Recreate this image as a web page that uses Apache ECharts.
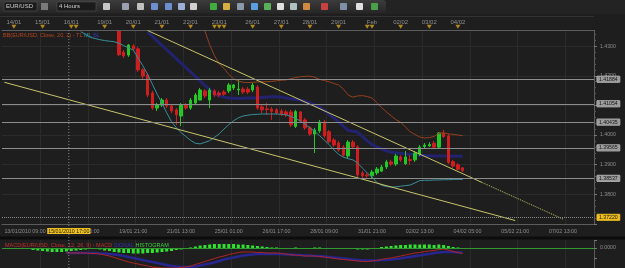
<!DOCTYPE html>
<html>
<head>
<meta charset="utf-8">
<title>EUR/USD 4 Hours</title>
<script src="https://cdn.jsdelivr.net/npm/echarts@6/dist/echarts.min.js"></script>
<style>
html, body { margin: 0; padding: 0; background: #1e1e1e; }
#chart { width: 625px; height: 268px; }
</style>
</head>
<body>
<div id="chart"></div>
<script>
// slots on the time axis (4 hour bars), candles start at slot 24
var slotCount = 124;
var candleStart = 24;

var opens = [1.4351,1.4280,1.4270,1.4301,1.4291,1.4220,1.4203,1.4142,1.4091,1.4101,
  1.4118,1.4098,1.4085,1.4064,1.4101,1.4091,1.4108,1.4118,1.4149,1.4118,
  1.4149,1.4142,1.4145,1.4149,1.4159,1.4152,1.4155,1.4155,1.4152,1.4162,
  1.4095,1.4088,1.4088,1.4085,1.4081,1.4078,1.4078,1.4029,1.4078,1.4051,
  1.4024,1.4003,1.4014,1.4044,1.4011,1.3983,1.3973,1.3959,1.3929,1.3976,
  1.3960,1.3872,1.3865,1.3862,1.3872,1.3878,1.3892,1.3909,1.3902,1.3926,
  1.3903,1.3917,1.3916,1.3936,1.3961,1.3963,1.3972,1.3959,1.4007,1.3997,
  1.3910,1.3899,1.3889];
var closes = [1.4271,1.4267,1.4304,1.4291,1.4220,1.4199,1.4135,1.4091,1.4101,1.4118,
  1.4098,1.4081,1.4068,1.4101,1.4091,1.4118,1.4135,1.4152,1.4132,1.4152,
  1.4135,1.4135,1.4138,1.4169,1.4169,1.4155,1.4145,1.4145,1.4169,1.4091,
  1.4085,1.4086,1.4080,1.4074,1.4071,1.4068,1.4034,1.4079,1.4047,1.4024,
  1.4003,1.4017,1.4044,1.3997,1.3977,1.3966,1.3949,1.3932,1.3976,1.3960,
  1.3865,1.3862,1.3862,1.3875,1.3885,1.3892,1.3909,1.3902,1.3929,1.3916,
  1.3926,1.3914,1.3939,1.3959,1.3966,1.3968,1.3959,1.4007,1.3995,1.3907,
  1.3895,1.3884,1.3879];
var lows = [1.4267,1.4260,1.4264,1.4284,1.4213,1.4186,1.4128,1.4085,1.4081,1.4095,
  1.4091,1.4074,1.4034,1.4030,1.4085,1.4085,1.4101,1.4118,1.4125,1.4091,
  1.4128,1.4128,1.4132,1.4142,1.4152,1.4135,1.4138,1.4138,1.4145,1.4085,
  1.4074,1.4068,1.4051,1.4068,1.4064,1.4061,1.4027,1.4024,1.4041,1.4017,
  1.3997,1.3939,1.4007,1.3990,1.3973,1.3960,1.3943,1.3926,1.3922,1.3953,
  1.3858,1.3851,1.3855,1.3855,1.3865,1.3875,1.3885,1.3895,1.3895,1.3909,
  1.3899,1.3899,1.3909,1.3929,1.3956,1.3960,1.3953,1.3956,1.3990,1.3902,
  1.3889,1.3882,1.3875];
var highs = [1.4355,1.4287,1.4307,1.4307,1.4297,1.4226,1.4209,1.4149,1.4108,1.4125,
  1.4125,1.4105,1.4091,1.4108,1.4108,1.4125,1.4142,1.4159,1.4155,1.4159,
  1.4155,1.4149,1.4152,1.4176,1.4172,1.4186,1.4162,1.4162,1.4176,1.4169,
  1.4101,1.4108,1.4095,1.4091,1.4088,1.4085,1.4085,1.4085,1.4081,1.4058,
  1.4030,1.4024,1.4051,1.4051,1.4017,1.3990,1.3980,1.3966,1.3983,1.3983,
  1.3966,1.3879,1.3872,1.3882,1.3892,1.3899,1.3916,1.3916,1.3936,1.3932,
  1.3946,1.3932,1.3946,1.3966,1.3973,1.3976,1.3980,1.4010,1.4017,1.4003,
  1.3916,1.3905,1.3892];

// bollinger bands (20, 2)
var bbUpperStart = 42;
var bbUpper = [1.4352,1.4305,1.4268,1.4240,1.4225,1.4205,1.4190,1.4182,1.4178,1.4177,
  1.4178,1.4179,1.4180,1.4180,1.4181,1.4183,1.4185,1.4186,1.4190,1.4194,
  1.4197,1.4198,1.4199,1.4195,1.4188,1.4184,1.4180,1.4174,1.4169,1.4155,
  1.4135,1.4128,1.4132,1.4133,1.4130,1.4125,1.4110,1.4093,1.4078,1.4065,
  1.4052,1.4043,1.4027,1.4011,1.4002,1.3993,1.3990,1.3991,1.3995,1.4006,
  1.4007,1.4004,1.4002,1.4000,1.3998];
var bbMiddleStart = 30;
var bbMiddle = [1.4348,1.4333,1.4318,1.4303,1.4288,1.4273,1.4258,1.4243,1.4228,1.4213,
  1.4198,1.4183,1.4168,1.4153,1.4140,1.4132,1.4128,1.4125,1.4124,1.4123,
  1.4124,1.4125,1.4125,1.4126,1.4127,1.4128,1.4129,1.4129,1.4128,1.4125,
  1.4122,1.4120,1.4118,1.4113,1.4108,1.4102,1.4095,1.4083,1.4070,1.4057,
  1.4045,1.4030,1.4016,1.4013,1.4010,1.3995,1.3980,1.3968,1.3960,1.3953,
  1.3946,1.3942,1.3940,1.3938,1.3936,1.3935,1.3933,1.3932,1.3931,1.3930,
  1.3929,1.3929,1.3929,1.3928,1.3928,1.3928,1.3928];
var bbLowerStart = 16;
var bbLower = [1.4349,1.4340,1.4330,1.4326,1.4322,1.4319,1.4317,1.4315,1.4310,1.4302,
  1.4294,1.4287,1.4260,1.4234,1.4205,1.4172,1.4138,1.4108,1.4075,1.4045,
  1.4025,1.4008,1.3995,1.3982,1.3972,1.3970,1.3975,1.3981,1.3992,1.4004,
  1.4020,1.4035,1.4048,1.4058,1.4064,1.4067,1.4069,1.4070,1.4071,1.4071,
  1.4071,1.4071,1.4070,1.4068,1.4063,1.4056,1.4047,1.4036,1.4024,1.4012,
  1.3998,1.3983,1.3968,1.3950,1.3935,1.3925,1.3920,1.3916,1.3905,1.3888,
  1.3872,1.3858,1.3840,1.3830,1.3826,1.3824,1.3825,1.3827,1.3829,1.3831,
  1.3838,1.3846,1.3847,1.3847,1.3848,1.3848,1.3849,1.3849,1.3850,1.3850,1.3850];

// drawn trend lines: [slot, price]
var trendUpper = [[30, 1.4353], [100, 1.3840]];
var trendUpperExt = [[100, 1.3840], [117, 1.3716]];
var trendLower = [[0, 1.4178], [107, 1.3711]];

// horizontal levels and price tags
var levelPrices = [1.41884, 1.41054, 1.40435, 1.39565, 1.38537];
var lastPrice = 1.38786;
var crossPrice = 1.37220;
var crossSlot = 13;
var crossDateText = '15/01/2010 17:00';

// MACD (12, 26, 9)
var macdStart = 13;
var macdLine = [-0.0010,-0.0010,-0.0010,-0.0010,-0.0010,-0.0011,-0.0011,-0.0012,-0.0014,-0.0016,
  -0.0019,-0.0022,-0.0025,-0.0028,-0.0030,-0.0032,-0.0034,-0.0036,-0.0038,-0.0039,
  -0.0040,-0.0040,-0.0040,-0.0040,-0.0039,-0.0038,-0.0036,-0.0033,-0.0030,-0.0027,
  -0.0024,-0.0021,-0.0018,-0.0016,-0.0013,-0.0011,-0.0009,-0.0008,-0.0008,-0.0008,
  -0.0009,-0.0009,-0.0010,-0.0010,-0.0010,-0.0011,-0.0012,-0.0014,-0.0014,-0.0015,
  -0.0016,-0.0016,-0.0016,-0.0017,-0.0018,-0.0019,-0.0021,-0.0022,-0.0023,-0.0024,
  -0.0025,-0.0026,-0.0027,-0.0027,-0.0026,-0.0025,-0.0023,-0.0021,-0.0020,-0.0018,
  -0.0016,-0.0014,-0.0012,-0.0010,-0.0009,-0.0007,-0.0006,-0.0005,-0.0003,-0.0002,
  -0.0004,-0.0007,-0.0009,-0.0011];
var signalLine = [-0.0010,-0.0010,-0.0010,-0.0010,-0.0010,-0.0010,-0.0010,-0.0011,-0.0011,-0.0012,
  -0.0013,-0.0014,-0.0016,-0.0018,-0.0020,-0.0022,-0.0024,-0.0026,-0.0028,-0.0030,
  -0.0032,-0.0034,-0.0036,-0.0037,-0.0038,-0.0038,-0.0038,-0.0037,-0.0035,-0.0033,
  -0.0031,-0.0029,-0.0026,-0.0023,-0.0021,-0.0019,-0.0017,-0.0015,-0.0014,-0.0013,
  -0.0012,-0.0012,-0.0012,-0.0012,-0.0012,-0.0012,-0.0013,-0.0013,-0.0014,-0.0014,
  -0.0015,-0.0015,-0.0016,-0.0016,-0.0017,-0.0018,-0.0019,-0.0020,-0.0021,-0.0022,
  -0.0023,-0.0024,-0.0025,-0.0025,-0.0025,-0.0025,-0.0024,-0.0024,-0.0023,-0.0022,
  -0.0021,-0.0019,-0.0018,-0.0016,-0.0015,-0.0013,-0.0012,-0.0010,-0.0009,-0.0008,
  -0.0008,-0.0008,-0.0009,-0.0009];
var histStart = 5;
var histogram = [-0.0002,-0.0004,-0.0005,-0.0006,-0.0007,-0.0008,-0.0008,-0.0008,-0.0007,-0.0006,
  -0.0005,-0.0004,-0.0003,-0.0002,-0.0002,-0.0003,-0.0005,-0.0006,-0.0008,-0.0009,
  -0.0010,-0.0010,-0.0011,-0.0011,-0.0011,-0.0010,-0.0010,-0.0009,-0.0008,-0.0007,
  -0.0006,-0.0004,-0.0003,-0.0001,0.0001,0.0003,0.0005,0.0006,0.0007,0.0008,
  0.0008,0.0008,0.0008,0.0008,0.0007,0.0007,0.0006,0.0005,0.0004,0.0003,
  0.0002,0.0001,0.0001,0.0000,-0.0001,-0.0001,0.0001,0.0000,-0.0001,-0.0001,
  0.0001,0.0001,-0.0001,-0.0001,-0.0002,-0.0002,-0.0002,-0.0001,-0.0002,-0.0003,
  -0.0003,-0.0003,-0.0002,-0.0001,0.0002,0.0003,0.0004,0.0005,0.0006,0.0006,
  0.0007,0.0007,0.0007,0.0007,0.0007,0.0006,0.0007,0.0006,0.0004,0.0002,
  0.0001,-0.0001];

// time axis labels
var bottomTickSlots = [0, 17, 27, 37, 47, 57, 67, 77, 87, 97, 107, 117];
var bottomTickText = ['13/01/2010 09:00', '18/01 05:00', '19/01 21:00', '21/01 13:00', '25/01 01:00', '26/01 17:00',
  '28/01 09:00', '31/01 21:00', '02/02 13:00', '04/02 05:00', '05/02 21:00', '07/02 13:00'];
var topTickSlots = [2, 8, 14, 21, 27, 33, 39, 45, 52, 58, 64, 70, 77, 83, 89, 95];
var topTickText = ['14/01', '15/01', '16/01', '19/01', '20/01', '21/01', '22/01', '23/01', '26/01', '27/01',
  '28/01', '29/01', 'Feb', '02/02', '03/02', '04/02'];
var markerSlots = [2, 8, 14, 15, 21, 27, 33, 39, 44, 45, 46, 52, 58, 64, 70, 76, 77, 83, 89, 95];
var priceAxisLabels = ['1.4300', '1.4200', '1.4100', '1.4000', '1.3900', '1.3800'];

var FONT = 'Liberation Sans';

function pairs(start, arr) {
  return arr.map(function (v, k) { return [start + k, v]; });
}

var cats = [];
var bottomText = {};
var topText = {};
for (var i = 0; i < slotCount; i++) cats.push('s' + i);
bottomTickSlots.forEach(function (s, k) { bottomText[s] = bottomTickText[k]; });
topTickSlots.forEach(function (s, k) { topText[s] = topTickText[k]; });
cats[0] = { value: 's0', textStyle: { align: 'left' } };

var candleData = opens.map(function (o, k) {
  return [candleStart + k, o, closes[k], lows[k], highs[k]];
});

var levelMarks = levelPrices.map(function (p) {
  return { yAxis: p, label: { formatter: p.toFixed(5) } };
});
levelMarks.push({
  yAxis: crossPrice,
  lineStyle: { type: 'dotted', color: '#8a8a8a' },
  label: { formatter: crossPrice.toFixed(5), backgroundColor: '#f0c020', color: '#111', borderColor: '#f0c020' }
});
levelMarks.push({
  yAxis: lastPrice,
  lineStyle: { opacity: 0 },
  label: { formatter: lastPrice.toFixed(5), backgroundColor: '#3d8ede', color: '#fff', borderColor: '#7fb6ec' }
});

var chart = echarts.init(document.getElementById('chart'));

var option = {
  backgroundColor: '#1e1e1e',
  animation: false,
  textStyle: { fontFamily: FONT },
  grid: [
    { left: 2, right: 31, top: 16.6, height: 207.2, outerBoundsMode: 'none' },
    { left: 2, right: 31, top: 14, height: 16, outerBoundsMode: 'none' },
    { left: 2, right: 31, top: 240, height: 28, outerBoundsMode: 'none' }
  ],
  xAxis: [
    {
      type: 'category', gridIndex: 0, data: cats, position: 'bottom',
      axisLine: { lineStyle: { color: '#5c5c5c' } },
      axisTick: { inside: true, length: 5, alignWithLabel: true,
        interval: function (i) { return bottomText[i] !== undefined && i > 0; },
        lineStyle: { color: '#777' } },
      axisLabel: { interval: function (i) { return bottomText[i] !== undefined; },
        formatter: function (v, i) { return bottomText[i] || ''; },
        color: '#8e8e8e', fontSize: 5.3, margin: 5, fontFamily: FONT },
      splitLine: { show: true, interval: function (i) { return i % 10 === 8; },
        lineStyle: { color: '#2b2b2b' } }
    },
    {
      type: 'category', gridIndex: 1, data: cats, position: 'bottom', z: 3,
      axisLine: { lineStyle: { color: '#5c5c5c' } },
      axisTick: { inside: true, length: 2, interval: 1, lineStyle: { color: '#6a6a6a' } },
      axisLabel: { inside: true, margin: 5, interval: function (i) { return topText[i] !== undefined; },
        formatter: function (v, i) { return topText[i] || ''; },
        color: '#8e8e8e', fontSize: 6, fontFamily: FONT },
      splitLine: { show: false }
    },
    {
      type: 'category', gridIndex: 2, data: cats,
      axisLine: { show: false }, axisTick: { show: false }, axisLabel: { show: false },
      splitLine: { show: true, interval: function (i) { return i % 10 === 8; },
        lineStyle: { color: '#2b2b2b' } }
    },
    {
      type: 'category', gridIndex: 0, data: cats, position: 'bottom',
      axisLine: { show: false },
      axisTick: { inside: true, length: 2, interval: 1, lineStyle: { color: '#5a5a5a' } },
      axisLabel: { show: false }, splitLine: { show: false }
    }
  ],
  yAxis: [
    {
      type: 'value', gridIndex: 0, position: 'right', min: 1.37, max: 1.44, interval: 0.01,
      axisLine: { show: true, lineStyle: { color: '#5c5c5c' } },
      axisTick: { show: true, length: 3, lineStyle: { color: '#777' } },
      minorTick: { show: true, splitNumber: 5, length: 2, lineStyle: { color: '#555' } },
      axisLabel: { color: '#8e8e8e', fontSize: 5.2, margin: 6, fontFamily: FONT,
        formatter: function (v) { var s = v.toFixed(4); return priceAxisLabels.indexOf(s) >= 0 ? s : ''; } },
      splitLine: { show: true, lineStyle: { color: '#2b2b2b' } }
    },
    { type: 'value', gridIndex: 1, min: 0, max: 1, show: false },
    {
      type: 'value', gridIndex: 2, position: 'right', min: -0.004, max: 0.0016, interval: 0.002,
      axisLine: { show: true, lineStyle: { color: '#5c5c5c' } },
      axisTick: { show: true, length: 3, lineStyle: { color: '#777' } },
      axisLabel: { color: '#8e8e8e', fontSize: 5.2, margin: 6, fontFamily: FONT,
        formatter: function (v) { return Math.abs(v) < 1e-9 ? '0.0000' : ''; } },
      splitLine: { show: false }
    }
  ],
  series: [
    {
      type: 'candlestick', xAxisIndex: 0, yAxisIndex: 0, barWidth: 3,
      data: candleData, encode: { x: 0, y: [1, 2, 3, 4] },
      itemStyle: { color: '#24c824', color0: '#cf1e1e', borderColor: '#24c824', borderColor0: '#cf1e1e', borderWidth: 1 },
      markLine: {
        silent: true, symbol: 'none', animation: false, precision: 6,
        lineStyle: { color: '#8c8c8c', type: 'solid', width: 1 },
        label: { position: 'end', distance: 3, fontSize: 5.2, fontFamily: FONT, color: '#111',
          backgroundColor: '#9d9d9d', borderColor: '#c8c8c8', borderWidth: 0.5, padding: [1, 2, 0, 2] },
        data: levelMarks
      }
    },
    { type: 'line', xAxisIndex: 0, yAxisIndex: 0, data: pairs(bbUpperStart, bbUpper), symbol: 'none',
      lineStyle: { color: '#94401f', width: 1 } },
    { type: 'line', xAxisIndex: 0, yAxisIndex: 0, data: pairs(bbMiddleStart, bbMiddle), symbol: 'none',
      lineStyle: { color: '#22226e', width: 3 }, z: 1 },
    { type: 'line', xAxisIndex: 0, yAxisIndex: 0, data: pairs(bbLowerStart, bbLower), symbol: 'none',
      lineStyle: { color: '#3a8e98', width: 1 } },
    { type: 'line', xAxisIndex: 0, yAxisIndex: 0, data: trendUpper, symbol: 'none',
      lineStyle: { color: '#c8c46a', width: 1 } },
    { type: 'line', xAxisIndex: 0, yAxisIndex: 0, data: trendUpperExt, symbol: 'none',
      lineStyle: { color: '#c8c46a', width: 1, type: 'dotted' } },
    { type: 'line', xAxisIndex: 0, yAxisIndex: 0, data: trendLower, symbol: 'none',
      lineStyle: { color: '#c8c46a', width: 1 } },
    { type: 'scatter', xAxisIndex: 1, yAxisIndex: 1, z: 4,
      data: markerSlots.map(function (s) { return [s, 0.2]; }),
      symbol: 'triangle', symbolRotate: 180, symbolSize: [5, 4],
      itemStyle: { color: '#d6a21e' } },
    { type: 'bar', xAxisIndex: 2, yAxisIndex: 2, data: pairs(histStart, histogram), barWidth: 3,
      itemStyle: { color: '#2ee42e' },
      markLine: { silent: true, symbol: 'none', animation: false, precision: 6, label: { show: false },
        lineStyle: { color: '#2f9a2f', type: 'solid', width: 1 }, data: [{ yAxis: 0 }] } },
    { type: 'line', xAxisIndex: 2, yAxisIndex: 2, data: pairs(macdStart, signalLine), symbol: 'none',
      lineStyle: { color: '#26268e', width: 2.5 } },
    { type: 'line', xAxisIndex: 2, yAxisIndex: 2, data: pairs(macdStart, macdLine), symbol: 'none',
      lineStyle: { color: '#b02424', width: 1 } }
  ]
};
chart.setOption(option);

// crosshair sits between two bars, placed through the axis scale
var cx = (chart.convertToPixel({ xAxisIndex: 0 }, crossSlot) + chart.convertToPixel({ xAxisIndex: 0 }, crossSlot + 1)) / 2;

var icons = [
  [103, '#c8c8c8'], [122, '#9aa0b0'], [137, '#c0c0c0'], [151, '#6d8fd0'], [165, '#6d8fd0'],
  [178, '#9fb0d8'], [190, '#d0d0d0'], [210, '#3fae3f'], [223, '#d8b040'], [237, '#8a9aaa'],
  [251, '#5aa0e0'], [264, '#5ab05a'], [277, '#e0e0e0'], [290, '#b0c0c0'], [303, '#d08a40'],
  [321, '#c84040'], [340, '#8090a8'], [356, '#e0e0e0'], [371, '#4aa04a']
];

var graphic = [
  { type: 'rect', z: 1, shape: { x: 0, y: 0, width: 625, height: 14 }, style: { fill: '#232323' } },
  { type: 'rect', z: 1, shape: { x: 0, y: 0, width: 386, height: 13, r: [0, 3, 3, 0] },
    style: { fill: new echarts.graphic.LinearGradient(0, 0, 0, 1, [{ offset: 0, color: '#3c3c3c' }, { offset: 1, color: '#262626' }]) } },
  { type: 'rect', z: 1, shape: { x: 0, y: 14, width: 625, height: 16 }, style: { fill: '#1e1e1e' } },
  { type: 'line', z: 1, shape: { x1: 0, y1: 16.5, x2: 594, y2: 16.5 }, style: { stroke: '#333', lineWidth: 1 } },
  { type: 'rect', z: 2, shape: { x: 4, y: 2, width: 33, height: 9 }, style: { fill: '#1b1b1b', stroke: '#5a5a5a', lineWidth: 0.5 } },
  { type: 'text', z: 3, style: { x: 6, y: 6.5, text: 'EUR/USD', fill: '#cfcfcf', fontSize: 6, fontFamily: FONT, verticalAlign: 'middle' } },
  { type: 'rect', z: 2, shape: { x: 41, y: 3, width: 7, height: 7 }, style: { fill: '#7a7a7a' } },
  { type: 'rect', z: 2, shape: { x: 57, y: 2, width: 39, height: 9 }, style: { fill: '#1b1b1b', stroke: '#5a5a5a', lineWidth: 0.5 } },
  { type: 'text', z: 3, style: { x: 59, y: 6.5, text: '4 Hours', fill: '#cfcfcf', fontSize: 6, fontFamily: FONT, verticalAlign: 'middle' } },
  { type: 'line', z: 1, shape: { x1: 0, y1: 238, x2: 625, y2: 238 }, style: { stroke: '#0c0c0c', lineWidth: 3 } },
  { type: 'text', z: 5, style: { x: 3, y: 32, fontSize: 5.5, fontFamily: FONT,
      text: '{a|BB(EUR/USD, Close, 20, 2) - TL} {b|ML} {c|BL}',
      rich: { a: { fill: '#b8431e', fontSize: 5.5 }, b: { fill: '#3a8e98', fontSize: 5.5 }, c: { fill: '#3535b8', fontSize: 5.5 } } } },
  { type: 'text', z: 5, style: { x: 5, y: 242, fontSize: 5.5, fontFamily: FONT,
      text: '{a|MACD(EUR/USD, Close, 12, 26, 9) - MACD} {b|SIGNAL} {c|HISTOGRAM}',
      rich: { a: { fill: '#c0302b', fontSize: 5.5 }, b: { fill: '#3030b0', fontSize: 5.5 }, c: { fill: '#3ccf3c', fontSize: 5.5 } } } },
  { type: 'line', z: 6, shape: { x1: cx, y1: 30, x2: cx, y2: 268 },
    style: { stroke: '#8a8a8a', lineWidth: 1, lineDash: [1, 2] } },
  { type: 'text', z: 7, style: { x: cx, y: 228, text: crossDateText, align: 'center', fill: '#1a1a1a',
      backgroundColor: '#f0c020', padding: [1, 1, 0, 1], fontSize: 5.3, fontFamily: FONT } }
];
icons.forEach(function (ic) {
  graphic.push({ type: 'rect', z: 2, shape: { x: ic[0], y: 3, width: 7, height: 7, r: 1 }, style: { fill: ic[1] } });
});
chart.setOption({ graphic: graphic });
</script>
</body>
</html>
